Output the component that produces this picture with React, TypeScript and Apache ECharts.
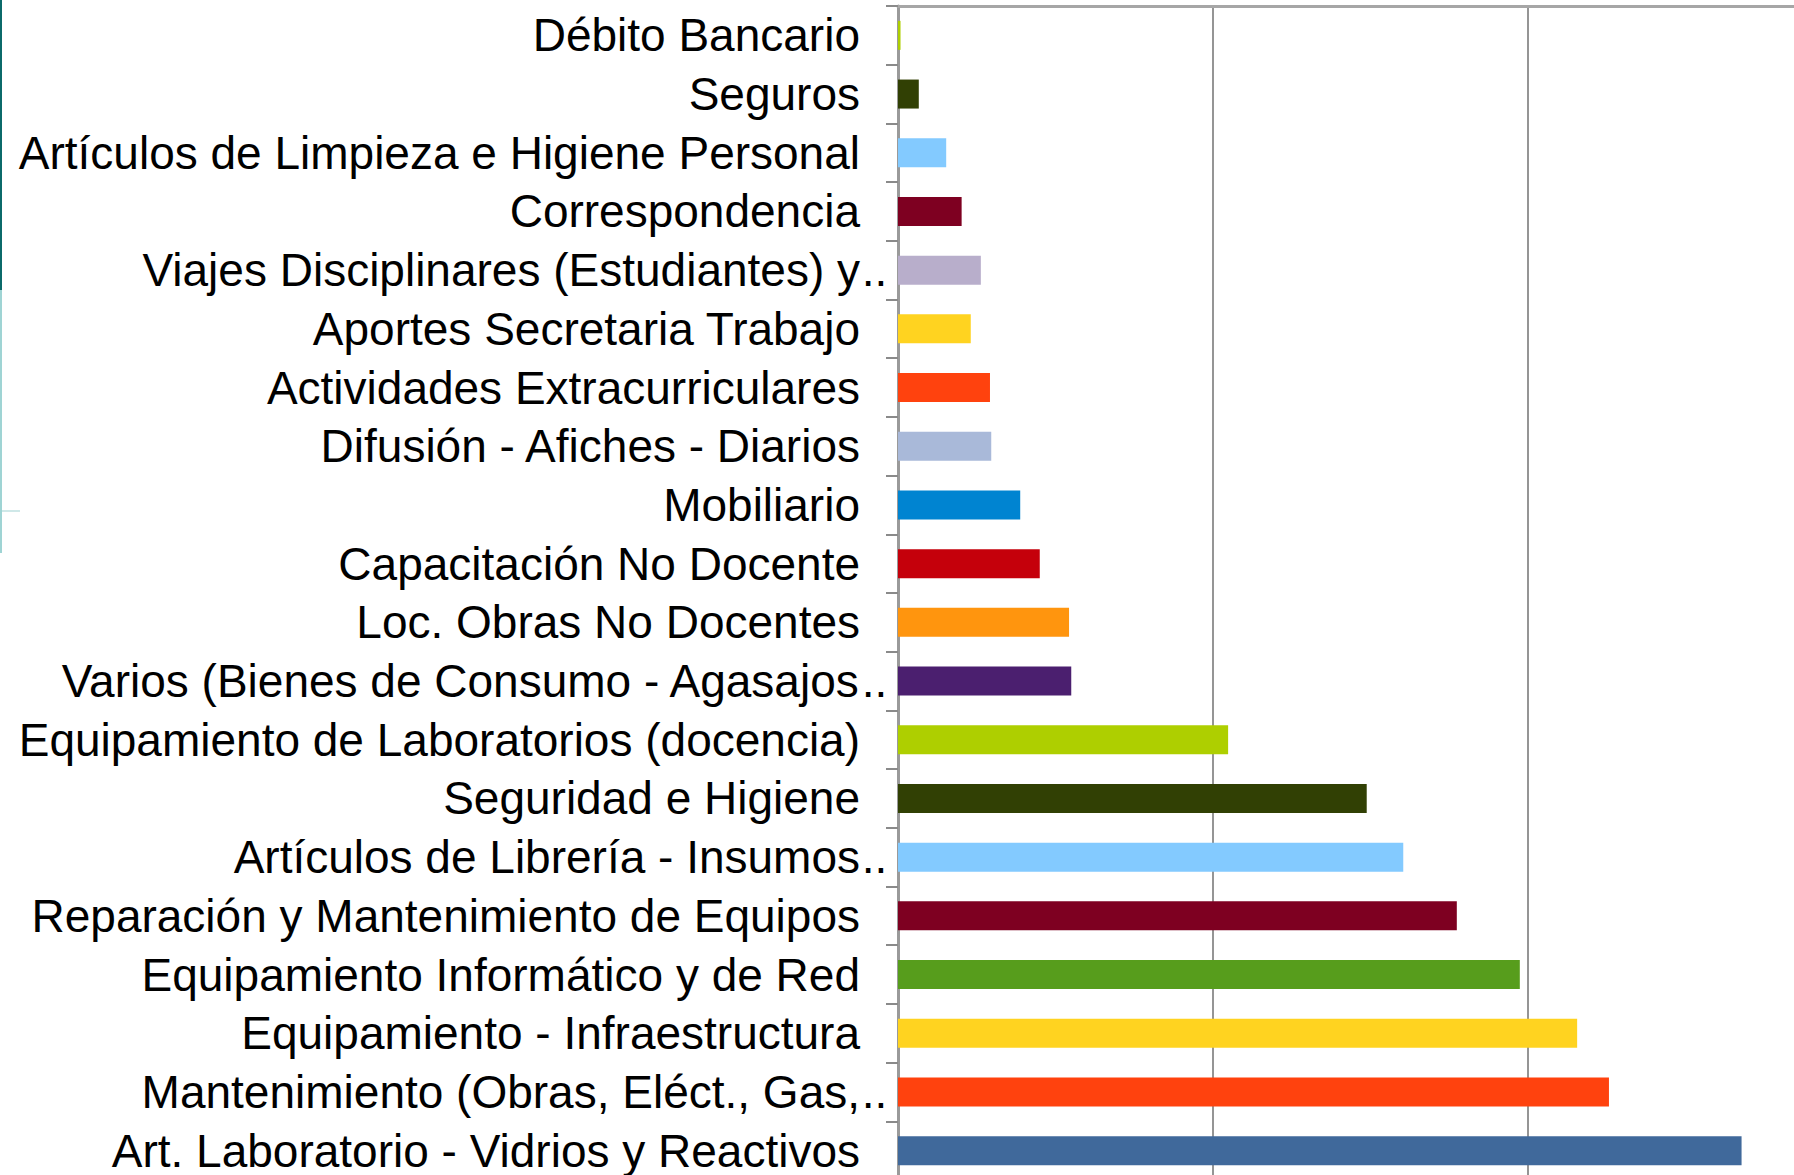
import React, { useEffect, useRef } from "react";
import * as echarts from "echarts";

const categories = [
  "Débito Bancario",
  "Seguros",
  "Artículos de Limpieza e Higiene Personal",
  "Correspondencia",
  "Viajes Disciplinares (Estudiantes) y..",
  "Aportes Secretaria Trabajo",
  "Actividades Extracurriculares",
  "Difusión - Afiches - Diarios",
  "Mobiliario",
  "Capacitación No Docente",
  "Loc. Obras No Docentes",
  "Varios (Bienes de Consumo - Agasajos..",
  "Equipamiento de Laboratorios (docencia)",
  "Seguridad e Higiene",
  "Artículos de Librería - Insumos..",
  "Reparación y Mantenimiento de Equipos",
  "Equipamiento Informático y de Red",
  "Equipamiento - Infraestructura",
  "Mantenimiento (Obras, Eléct., Gas,..",
  "Art. Laboratorio - Vidrios y Reactivos",
];

const values = [
  800, 6600, 15300, 20200, 26300, 23100, 29200, 29600, 38800, 45000,
  54300, 55000, 104800, 148800, 160400, 177400, 197400, 215600, 225700, 267800,
];

const barColors = [
  "#aecf00", "#314004", "#83caff", "#7e0021", "#b8aecb",
  "#ffd320", "#ff420e", "#a9b9d9", "#0084d1", "#c5000b",
  "#ff950e", "#4b1f6f", "#aecf00", "#314004", "#83caff",
  "#7e0021", "#579d1c", "#ffd320", "#ff420e", "#40699b",
];

const FONT = "Liberation Sans, Arial, sans-serif";

export default function App() {
  const ref = useRef<HTMLDivElement>(null);
  useEffect(() => {
    if (!ref.current) return;
    const chart = echarts.init(ref.current, undefined, { renderer: "svg" });
    chart.setOption({
      animation: false,
      backgroundColor: "#ffffff",
      grid: { left: 898, right: 57, top: 6, bottom: 20, containLabel: false },
      xAxis: {
        type: "value",
        position: "top",
        min: 0,
        max: 300000,
        interval: 100000,
        axisLine: { show: true, lineStyle: { color: "#a6a6a6", width: 3 } },
        axisTick: { show: false },
        axisLabel: { show: false },
        splitLine: { show: true, lineStyle: { color: "#959595", width: 2 } },
      },
      yAxis: {
        type: "category",
        inverse: true,
        data: categories,
        axisLine: { show: true, lineStyle: { color: "#9a9a9a", width: 3 } },
        axisTick: { show: true, length: 12, lineStyle: { color: "#8a8a8a", width: 2 } },
        axisLabel: {
          margin: 9,
          interval: 0,
          formatter: (v: string) => {
            if (v.endsWith("..")) {
              return "{a|" + v.slice(0, -2) + "}{d|..}";
            }
            return "{a|" + v + "}{s| }";
          },
          rich: {
            a: { fontFamily: FONT, fontSize: 46, color: "#000000" },
            d: { fontFamily: FONT, fontSize: 46, color: "#000000", width: 29, align: "left" },
            s: { fontFamily: FONT, fontSize: 46, color: "#000000", width: 29 },
          },
        },
      },
      series: [
        {
          type: "bar",
          barWidth: 29,
          data: values.map((v, i) => ({ value: v, itemStyle: { color: barColors[i] } })),
        },
      ],
      graphic: [
        { type: "rect", shape: { x: 0, y: 0, width: 2, height: 290 }, style: { fill: "#0b6a6a" } },
        { type: "rect", shape: { x: 0, y: 290, width: 2, height: 263 }, style: { fill: "#9fd4d4" } },
        { type: "rect", shape: { x: 2, y: 510, width: 18, height: 2 }, style: { fill: "#cfe8e8" } },
      ],
    });
    return () => chart.dispose();
  }, []);
  return (
    <div style={{ position: "absolute", left: 0, top: 0, width: 1794, height: 1175, overflow: "hidden", background: "#fff" }}>
      <div ref={ref} style={{ width: 1900, height: 1200 }} />
    </div>
  );
}
